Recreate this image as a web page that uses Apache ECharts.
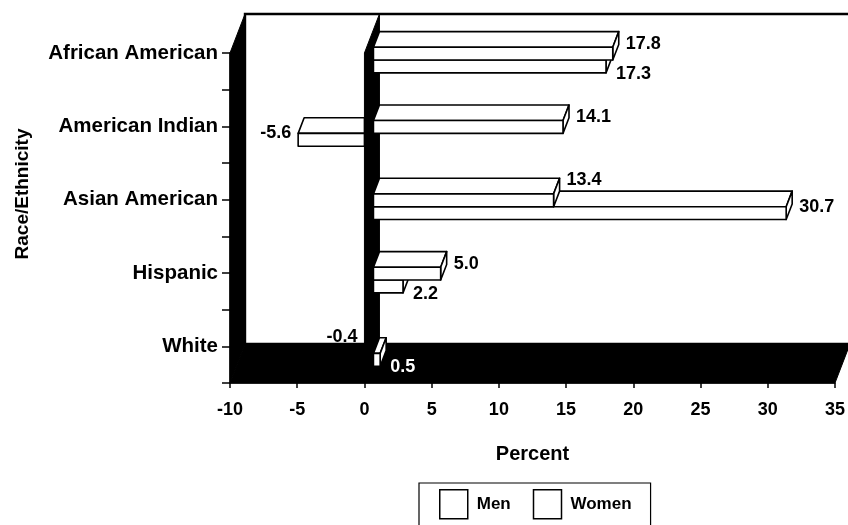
<!DOCTYPE html>
<html>
<head>
<meta charset="utf-8">
<script src="https://cdn.jsdelivr.net/npm/echarts@6/dist/echarts.min.js"></script>
<style>
  html, body { margin: 0; padding: 0; background: #fff; }
  #chart { width: 848px; height: 525px; }
</style>
</head>
<body>
<div id="chart"></div>
<script>
// Percent change by race/ethnicity, men vs women
const categories = ['African American', 'American Indian', 'Asian American', 'Hispanic', 'White'];
const menValues = [17.8, 14.1, 13.4, 5.0, -0.4];
const womenValues = [17.3, -5.6, 30.7, 2.2, 0.5];
const xMin = -10, xMax = 35, xStep = 5;
const seriesNames = ['Men', 'Women'];

// Oblique projection used for the 3-D look
const DEPTH_X = 15, DEPTH_Y = -39;       // offset of the back plane
const BAR_Z_FRONT = 0.6, BAR_Z_BACK = 1; // bars sit toward the back
const SLOT = [0.24, 0.415];              // top of each series' bar within a category
const BAR_THICK = 0.175;
const Y_END = categories.length - 0.5;
const FONT = "'Liberation Sans', Arial, sans-serif";

function project(api, v, c, z) {
  const p = api.coord([v, c]);
  return [p[0] + z * DEPTH_X, p[1] + z * DEPTH_Y];
}

// keep the part of a polygon that lies left of x = limit
function clipLeft(poly, limit) {
  const out = [];
  for (let k = 0; k < poly.length; k++) {
    const a = poly[k], b = poly[(k + 1) % poly.length];
    const ina = a[0] <= limit, inb = b[0] <= limit;
    if (ina) out.push(a);
    if (ina !== inb) {
      const t = (limit - a[0]) / (b[0] - a[0]);
      out.push([limit, a[1] + t * (b[1] - a[1])]);
    }
  }
  return out;
}

const faceStyle = { fill: '#fff', stroke: '#000', lineWidth: 1.6, lineJoin: 'round' };

function renderFrame(params, api) {
  const P = (v, c, z) => project(api, v, c, z);
  const poly = (pts, style) => ({ type: 'polygon', shape: { points: pts }, style: style });
  const black = { fill: '#000', stroke: '#000', lineWidth: 1 };
  return {
    type: 'group',
    children: [
      poly([P(xMin, 0, 1), P(xMax + 2, 0, 1), P(xMax + 2, Y_END, 1), P(xMin, Y_END, 1)],
           { fill: '#fff', stroke: '#000', lineWidth: 2.4 }),
      poly([P(xMin, 0, 0), P(xMin, Y_END, 0), P(xMin, Y_END, 1), P(xMin, 0, 1)], black),
      poly([P(xMin, Y_END, 0), P(xMax, Y_END, 0), P(xMax, Y_END, 1), P(xMin, Y_END, 1)], black),
      poly([P(0, 0, 0), P(0, Y_END, 0), P(0, Y_END, 1), P(0, 0, 1)], black)
    ]
  };
}

function makeBarRenderer(seriesIndex) {
  const own = seriesIndex === 0 ? menValues : womenValues;
  const other = seriesIndex === 0 ? womenValues : menValues;
  return function (params, api) {
    const v = api.value(0);
    const i = api.value(1);
    const o = other[i];
    const P = (val, c, z) => project(api, val, c, z);
    const cTop = i + SLOT[seriesIndex];
    const cBot = cTop + BAR_THICK;
    const zF = BAR_Z_FRONT, zB = BAR_Z_BACK;
    const xe = v > 0 ? v : 0;

    let faces = [
      [P(0, cTop, zF), P(v, cTop, zF), P(v, cTop, zB), P(0, cTop, zB)],   // top
      [P(xe, cTop, zF), P(xe, cTop, zB), P(xe, cBot, zB), P(xe, cBot, zF)], // end
      [P(0, cTop, zF), P(v, cTop, zF), P(v, cBot, zF), P(0, cBot, zF)]    // front
    ];
    const zeroX = api.coord([0, 0])[0];
    if (v < 0) {
      faces = faces.map(f => clipLeft(f, zeroX)).filter(f => f.length >= 3);
    }
    const children = faces.map(pts => ({ type: 'polygon', shape: { points: pts }, style: faceStyle }));

    // value label placement
    const pxPerUnit = Math.abs(api.coord([1, 0])[0] - api.coord([0, 0])[0]);
    const frontTop = P(v, cTop, zF)[1];
    const frontBot = P(v, cBot, zF)[1];
    const backTop = P(v, cTop, zB)[1];
    const sameSide = Math.sign(o) === Math.sign(v);
    let ly, below = false;
    if (seriesIndex === 0) {
      if (sameSide && Math.abs(o) > Math.abs(v)) ly = backTop + 2;
      else ly = (backTop + frontBot) / 2 - 2;
    } else {
      const free = Math.abs(v) - (sameSide ? Math.abs(o) : 0);
      if (free * pxPerUnit > 30) ly = frontTop;
      else { ly = frontBot + 1; below = true; }
    }
    let lx, align;
    if (v >= 0) {
      lx = P(v, cTop, zB)[0] + (below ? 4 : 7);
      align = 'left';
    } else {
      lx = Math.min(P(v, cTop, zF)[0], zeroX) - 7;
      align = 'right';
    }
    // labels that land on the dark floor are knocked out in white
    const floorTop = P(0, Y_END, 1)[1];
    children.push({
      type: 'text',
      style: {
        text: own[i].toFixed(1), x: lx, y: ly, align: align, verticalAlign: 'middle',
        font: 'bold 18px ' + FONT, fill: ly > floorTop + 6 ? '#fff' : '#000'
      }
    });
    return { type: 'group', children: children };
  };
}

const chart = echarts.init(document.getElementById('chart'), null, { renderer: 'canvas' });
chart.setOption({
  backgroundColor: '#fff',
  animation: false,
  grid: { left: 230, right: 6, top: 53, bottom: 142 },
  xAxis: {
    type: 'value', min: xMin, max: xMax, interval: xStep,
    name: 'Percent', nameLocation: 'middle', nameGap: 61,
    nameTextStyle: { fontFamily: FONT, fontWeight: 'bold', fontSize: 20, color: '#000' },
    axisLine: { show: true, onZero: false, lineStyle: { color: '#000', width: 1.5 } },
    axisTick: { show: true, length: 5, lineStyle: { color: '#000', width: 1.5 } },
    axisLabel: { fontFamily: FONT, fontWeight: 'bold', fontSize: 18, color: '#000', margin: 18 },
    splitLine: { show: false }
  },
  yAxis: {
    type: 'value', inverse: true, min: 0, max: Y_END, interval: 0.5,
    name: 'Race/Ethnicity', nameLocation: 'middle', nameGap: 198, nameRotate: 90,
    nameTextStyle: { fontFamily: FONT, fontWeight: 'bold', fontSize: 19, color: '#000', padding: [0, 0, 0, 48] },
    axisLine: { show: true, onZero: false, lineStyle: { color: '#000', width: 1.5 } },
    axisTick: { show: true, length: 8, lineStyle: { color: '#000', width: 1.5 } },
    axisLabel: {
      fontFamily: FONT, fontWeight: 'bold', fontSize: 20.5, color: '#000', margin: 12,
      formatter: v => (Number.isInteger(v) && categories[v] !== undefined) ? categories[v] : ''
    },
    splitLine: { show: false }
  },
  legend: {
    data: seriesNames.map(n => ({
      name: n, icon: 'rect',
      itemStyle: { color: '#fff', borderColor: '#000', borderWidth: 1.5 }
    })),
    left: 419, top: 483,
    itemWidth: 28, itemHeight: 29, itemGap: 22,
    padding: [6, 19, 10, 20],
    borderColor: '#000', borderWidth: 1.2,
    textStyle: { fontFamily: FONT, fontWeight: 'bold', fontSize: 17, color: '#000', padding: [0, 0, 0, 4] },
    selectedMode: false
  },
  series: [
    {
      type: 'custom', name: 'frame', silent: true, clip: false, z: 1,
      data: [[xMin, 0]], encode: { x: 0, y: 1 },
      renderItem: renderFrame
    },
    {
      type: 'custom', name: seriesNames[1], silent: true, clip: false, z: 2,
      itemStyle: { color: '#fff', borderColor: '#000' },
      data: womenValues.map((v, i) => [v, i]), encode: { x: 0, y: 1 },
      renderItem: makeBarRenderer(1)
    },
    {
      type: 'custom', name: seriesNames[0], silent: true, clip: false, z: 3,
      itemStyle: { color: '#fff', borderColor: '#000' },
      data: menValues.map((v, i) => [v, i]), encode: { x: 0, y: 1 },
      renderItem: makeBarRenderer(0)
    }
  ]
});
</script>
</body>
</html>
